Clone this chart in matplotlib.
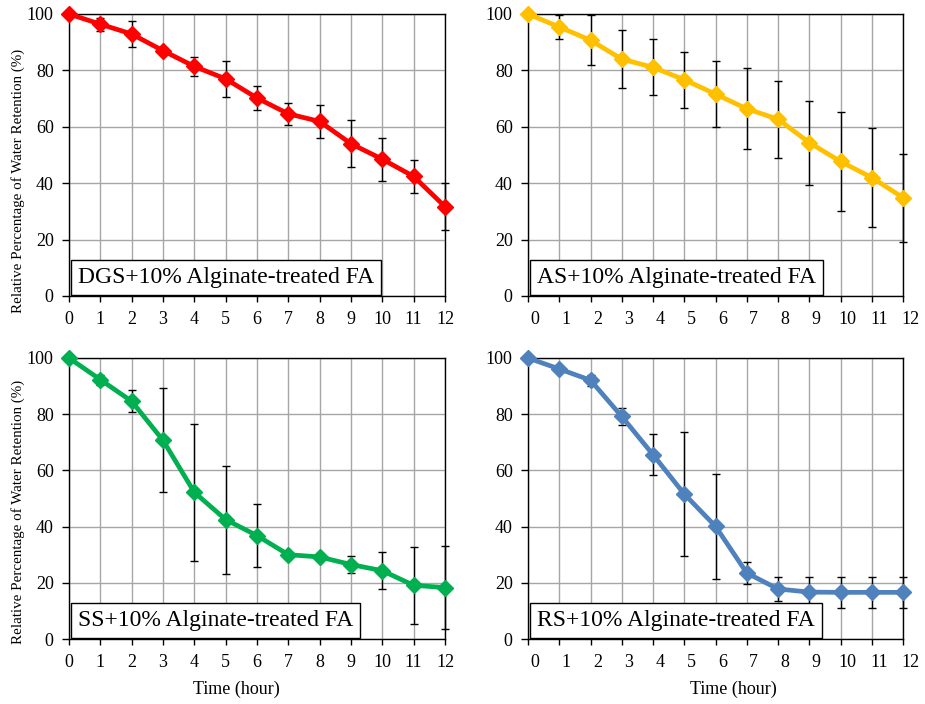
import matplotlib
matplotlib.use("Agg")
import matplotlib.pyplot as plt
import matplotlib.transforms as mtransforms

plt.rcParams['font.family'] = ['Liberation Serif', 'DejaVu Serif']

hours = list(range(13))

dgs_mean = [100, 96.4, 92.9, 87.0, 81.4, 77.0, 70.2, 64.6, 61.9, 54.0, 48.5, 42.4, 31.7]
dgs_err = [0, 2.3, 4.7, 1.0, 3.4, 6.3, 4.2, 3.8, 5.7, 8.3, 7.7, 6.0, 8.3]

as_mean = [100, 95.4, 90.7, 84.0, 81.1, 76.7, 71.6, 66.4, 62.7, 54.4, 47.7, 42.0, 34.9]
as_err = [0, 4.3, 8.8, 10.2, 10.0, 9.9, 11.8, 14.3, 13.6, 14.9, 17.6, 17.7, 15.6]

ss_mean = [100, 92.3, 84.6, 70.7, 52.2, 42.5, 36.8, 30.0, 29.2, 26.5, 24.3, 19.1, 18.3]
ss_err = [0, 1.8, 3.9, 18.5, 24.3, 19.2, 11.3, 1.0, 1.0, 3.0, 6.6, 13.8, 14.9]

rs_mean = [100, 96.1, 92.1, 79.2, 65.6, 51.6, 40.1, 23.5, 17.8, 16.7, 16.6, 16.6, 16.6]
rs_err = [0, 1.0, 1.9, 3.1, 7.4, 22.1, 18.6, 3.8, 4.3, 5.5, 5.4, 5.4, 5.4]

panel_labels = ["DGS+10% Alginate-treated FA", "AS+10% Alginate-treated FA",
                "SS+10% Alginate-treated FA", "RS+10% Alginate-treated FA"]
colors = ["#FF0000", "#FFC000", "#00B050", "#4F81BD"]
y_ticks = [0, 20, 40, 60, 80, 100]

W, H = 925, 704
fig = plt.figure(figsize=(W / 100, H / 100), dpi=100)

# axes rectangles in pixels: left, top, right, bottom
rects = [(69, 14, 445, 296), (528, 14, 903, 296),
         (69, 358, 445, 639), (528, 358, 903, 639)]
series = [(dgs_mean, dgs_err), (as_mean, as_err), (ss_mean, ss_err), (rs_mean, rs_err)]

for i, ((l, t, r, b), (m, e), lab, col) in enumerate(zip(rects, series, panel_labels, colors)):
    ax = fig.add_axes([l / W, 1 - b / H, (r - l) / W, (b - t) / H])
    ax.set_xlim(0, 12)
    ax.set_ylim(0, 100)
    ax.set_xticks(hours)
    ax.set_yticks(y_ticks)
    ax.grid(True, color="#A6A6A6", linewidth=1.0)
    ax.set_axisbelow(True)
    for s in ax.spines.values():
        s.set_color("black")
        s.set_linewidth(1.0)
    ax.tick_params(axis='y', direction='out', length=5, width=1, labelsize=13, pad=6)
    ax.tick_params(axis='x', direction='out', length=4, width=1, labelsize=13, pad=7)

    ax.errorbar(hours, m, yerr=e, fmt='none', ecolor='black', elinewidth=1.0,
                capsize=3, capthick=1.0, zorder=3, clip_on=False)
    ax.plot(hours, m, color=col, linewidth=3.4, marker='D', markersize=8,
            markerfacecolor=col, markeredgecolor=col, zorder=4, clip_on=False)

    ax.annotate(lab, xy=(0, 0), xycoords='axes fraction', xytext=(6.5, 5.5),
                textcoords='offset points', ha='left', va='bottom', fontsize=17,
                bbox=dict(boxstyle='square,pad=0.3', facecolor='white',
                          edgecolor='black', linewidth=1.0), zorder=5)

    if i % 2 == 1:
        shift = mtransforms.ScaledTranslation(7 / 100, 0, fig.dpi_scale_trans)
        for tl in ax.get_xticklabels():
            tl.set_transform(tl.get_transform() + shift)

    if i % 2 == 0:
        ax.set_ylabel("Relative Percentage of Water Retention (%)", fontsize=10.8)
        ax.yaxis.set_label_coords(-44 / (r - l), 0.408 if i == 0 else 0.452)
    if i >= 2:
        ax.set_xlabel("Time (hour)", fontsize=13)
        ax.xaxis.set_label_coords(0.444 if i == 2 else 0.547, -42 / (b - t))

fig.savefig("out.png", dpi=100)
